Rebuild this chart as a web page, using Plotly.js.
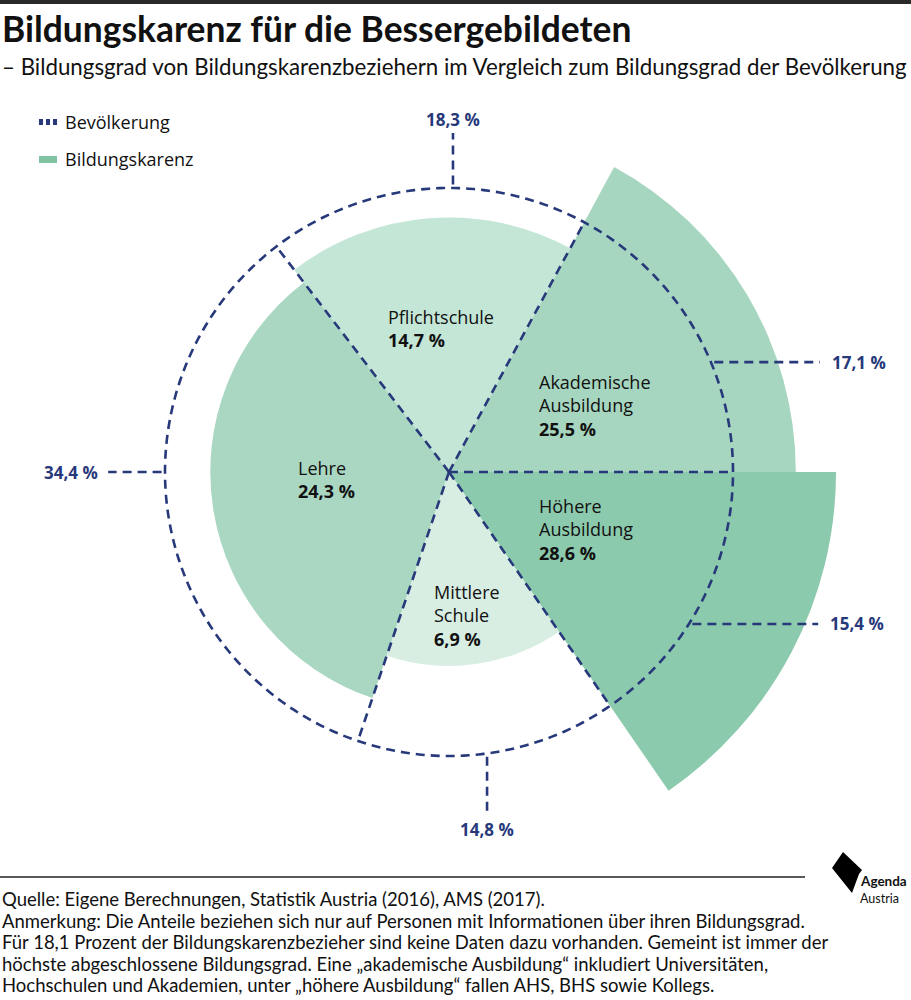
<!DOCTYPE html>
<html><head><meta charset="utf-8">
<script src="https://cdn.plot.ly/plotly-3.0.1.min.js"></script>
<style>body{margin:0;background:#fff}#chart{width:911px;height:1000px}</style>
</head><body><div id="chart"></div>
<script>
// ---- data ----
const categories = ["Höhere Ausbildung", "Akademische Ausbildung", "Pflichtschule", "Lehre", "Mittlere Schule"];
const labelLines = [["Höhere", "Ausbildung"], ["Akademische", "Ausbildung"], ["Pflichtschule"], ["Lehre"], ["Mittlere", "Schule"]];
const bevoelkerung = [15.4, 17.1, 18.3, 34.4, 14.8];      // share of population (%)
const bildungskarenz = [28.6, 25.5, 14.7, 24.3, 6.9];     // share of Bildungskarenz recipients (%)
const legendNames = ["Bevölkerung", "Bildungskarenz"];

// ---- styles / layout config ----
const fillColors = ["#8ccaad", "#a7d6c0", "#c4e6d6", "#a9d7c1", "#d8eee3"];
const navy = "#27397a";
const W = 911, H = 1000, cx = 449, cy = 472, unit = 284, rMax = 1.5;
const R = rMax * unit;
const labelFont = "Open Sans";
// sector label anchor positions (left edge x, vertical centre y) in px
const labelPos = [[537, 529], [537, 405], [386, 328], [296, 479], [432, 615]];
// callout geometry (unit coordinates)
const callouts = [
  {dir: "right", y: -0.535, end: 1.30},
  {dir: "right", y: 0.387, end: 1.306},
  {dir: "up", x: 0.014, end: 1.194},
  {dir: "left", y: 0, end: -1.20},
  {dir: "down", x: 0.134, end: -1.197}
];

const fmt = v => v.toFixed(1).replace(".", ",") + " %";
const px = x => (cx + x * unit) / W;         // unit x -> paper
const py = y => 1 - (cy - y * unit) / H;      // unit y -> paper
const ppx = p => p / W, ppy = p => 1 - p / H; // pixel -> paper
const toPolar = (x, y) => [Math.hypot(x, y), Math.atan2(y, x) * 180 / Math.PI];

// angles
const start = -bevoelkerung[0] * 3.6;
const widths = bevoelkerung.map(v => v * 3.6);
const bounds = [start];
widths.forEach((w, i) => bounds.push(bounds[i] + w));
const centers = widths.map((w, i) => bounds[i] + w / 2);
const radii = bildungskarenz.map((v, i) => Math.sqrt(v / bevoelkerung[i]));

const traces = [];
traces.push({
  type: "barpolar", r: radii, theta: centers, width: widths,
  marker: {color: fillColors, line: {width: 0}}, name: legendNames[1],
  hoverinfo: "skip"
});
// dashed population circle
const circT = [], circR = [];
for (let a = 0; a <= 360; a += 1) { circT.push(a); circR.push(1); }
const dashLine = {color: navy, width: 2.6, dash: "9px,6px"};
traces.push({type: "scatterpolar", mode: "lines", r: circR, theta: circT,
  line: dashLine, hoverinfo: "skip", name: legendNames[0]});
// boundaries
bounds.slice(0, 5).forEach(b => {
  traces.push({type: "scatterpolar", mode: "lines", r: [0, 1], theta: [b, b],
    line: dashLine, hoverinfo: "skip"});
});
// callouts
const annotations = [];
callouts.forEach((c, i) => {
  let x0, y0, x1, y1;
  const gap = 0.012;
  if (c.dir === "right" || c.dir === "left") {
    const s = c.dir === "right" ? 1 : -1;
    x0 = s * (Math.sqrt(1 - c.y * c.y) + gap); y0 = c.y; x1 = c.end; y1 = c.y;
  } else {
    const s = c.dir === "up" ? 1 : -1;
    y0 = s * (Math.sqrt(1 - c.x * c.x) + gap); x0 = c.x; y1 = c.end; x1 = c.x;
  }
  const p0 = toPolar(x0, y0), p1 = toPolar(x1, y1);
  traces.push({type: "scatterpolar", mode: "lines", r: [p0[0], p1[0]], theta: [p0[1], p1[1]],
    line: dashLine, hoverinfo: "skip"});
  const a = {text: "<b>" + fmt(bevoelkerung[i]) + "</b>", showarrow: false, xref: "paper", yref: "paper",
    font: {family: labelFont, size: 17, color: navy}};
  if (c.dir === "right") { a.x = ppx(cx + x1 * unit + 10); a.y = py(y1); a.xanchor = "left"; a.yanchor = "middle"; }
  if (c.dir === "left") { a.x = ppx(cx + x1 * unit - 8); a.y = py(y1); a.xanchor = "right"; a.yanchor = "middle"; }
  if (c.dir === "up") { a.x = px(x1); a.y = ppy(cy - y1 * unit - 13); a.xanchor = "center"; a.yanchor = "middle"; }
  if (c.dir === "down") { a.x = px(x1); a.y = ppy(cy - y1 * unit + 18); a.xanchor = "center"; a.yanchor = "middle"; }
  annotations.push(a);
});
// sector labels
categories.forEach((c, i) => {
  annotations.push({text: labelLines[i].join("<br>") + "<br><b>" + fmt(bildungskarenz[i]) + "</b>",
    showarrow: false, xref: "paper", yref: "paper", x: ppx(labelPos[i][0]), y: ppy(labelPos[i][1]),
    xanchor: "left", yanchor: "middle", align: "left", font: {family: labelFont, size: 18, color: "#111"}});
});
// titles
annotations.push({text: "<b>Bildungskarenz für die Bessergebildeten</b>", showarrow: false, xref: "paper", yref: "paper",
  x: ppx(0), y: ppy(28), xanchor: "left", yanchor: "middle", font: {family: "Lato", size: 35.4, color: "#111"}});
annotations.push({text: "– Bildungsgrad von Bildungskarenzbeziehern im Vergleich zum Bildungsgrad der Bevölkerung", showarrow: false,
  xref: "paper", yref: "paper", x: ppx(0), y: ppy(66), xanchor: "left", yanchor: "middle", font: {family: "Lato", size: 22.3, color: "#111"}});
// legend text
annotations.push({text: legendNames[0], showarrow: false, xref: "paper", yref: "paper", x: ppx(63), y: ppy(122),
  xanchor: "left", yanchor: "middle", font: {family: labelFont, size: 18, color: "#111"}});
annotations.push({text: legendNames[1], showarrow: false, xref: "paper", yref: "paper", x: ppx(63), y: ppy(159),
  xanchor: "left", yanchor: "middle", font: {family: labelFont, size: 18, color: "#111"}});
// footer
const footer = [
  "Quelle: Eigene Berechnungen, Statistik Austria (2016), AMS (2017).",
  "Anmerkung: Die Anteile beziehen sich nur auf Personen mit Informationen über ihren Bildungsgrad.",
  "Für 18,1 Prozent der Bildungskarenzbezieher sind keine Daten dazu vorhanden. Gemeint ist immer der",
  "höchste abgeschlossene Bildungsgrad. Eine „akademische Ausbildung“ inkludiert Universitäten,",
  "Hochschulen und Akademien, unter „höhere Ausbildung“ fallen AHS, BHS sowie Kollegs."
];
footer.forEach((t, i) => annotations.push({text: t, showarrow: false, xref: "paper", yref: "paper",
  x: ppx(0), y: ppy(899 + i * 21.5), xanchor: "left", yanchor: "middle", font: {family: "Lato", size: 18.5, color: "#111"}}));
annotations.push({text: "<b>Agenda</b>", showarrow: false, xref: "paper", yref: "paper", x: ppx(858), y: ppy(881),
  xanchor: "left", yanchor: "middle", font: {family: "Lato", size: 13.5, color: "#111"}});
annotations.push({text: "Austria", showarrow: false, xref: "paper", yref: "paper", x: ppx(858), y: ppy(898),
  xanchor: "left", yanchor: "middle", font: {family: "Lato", size: 12.5, color: "#111"}});

const P = (pts) => "M" + pts.map(p => ppx(p[0]) + "," + ppy(p[1])).join(" L") + " Z";
const shapes = [
  {type: "rect", xref: "paper", yref: "paper", x0: 0, x1: 1, y0: ppy(4), y1: ppy(0), fillcolor: "#2a2a2a", line: {width: 0}},
  {type: "line", xref: "paper", yref: "paper", x0: 0, x1: ppx(805), y0: ppy(877), y1: ppy(877), line: {color: "#222", width: 1.5}},
  {type: "path", xref: "paper", yref: "paper", path: P([[843, 852], [862, 870], [859, 874], [852, 893], [832, 868]]), fillcolor: "#000", line: {width: 0}},
  {type: "rect", xref: "paper", yref: "paper", x0: ppx(39), x1: ppx(57), y0: ppy(163), y1: ppy(156), fillcolor: "#7fc3a3", line: {width: 0}}
];
[[39, 43], [46, 50], [53, 57]].forEach(d => shapes.push({type: "rect", xref: "paper", yref: "paper",
  x0: ppx(d[0]), x1: ppx(d[1]), y0: ppy(125), y1: ppy(119), fillcolor: navy, line: {width: 0}}));

const layout = {
  width: W, height: H, margin: {l: 0, r: 0, t: 0, b: 0}, paper_bgcolor: "#fff", showlegend: false,
  font: {family: "Lato"},
  polar: {
    domain: {x: [(cx - R) / W, (cx + R) / W], y: [1 - (cy + R) / H, 1 - (cy - R) / H]},
    bgcolor: "rgba(0,0,0,0)",
    radialaxis: {visible: false, range: [0, rMax]},
    angularaxis: {visible: false, rotation: 0, direction: "counterclockwise"}
  },
  annotations: annotations, shapes: shapes, hovermode: false
};
Plotly.newPlot("chart", traces, layout, {staticPlot: true});
</script></body></html>
